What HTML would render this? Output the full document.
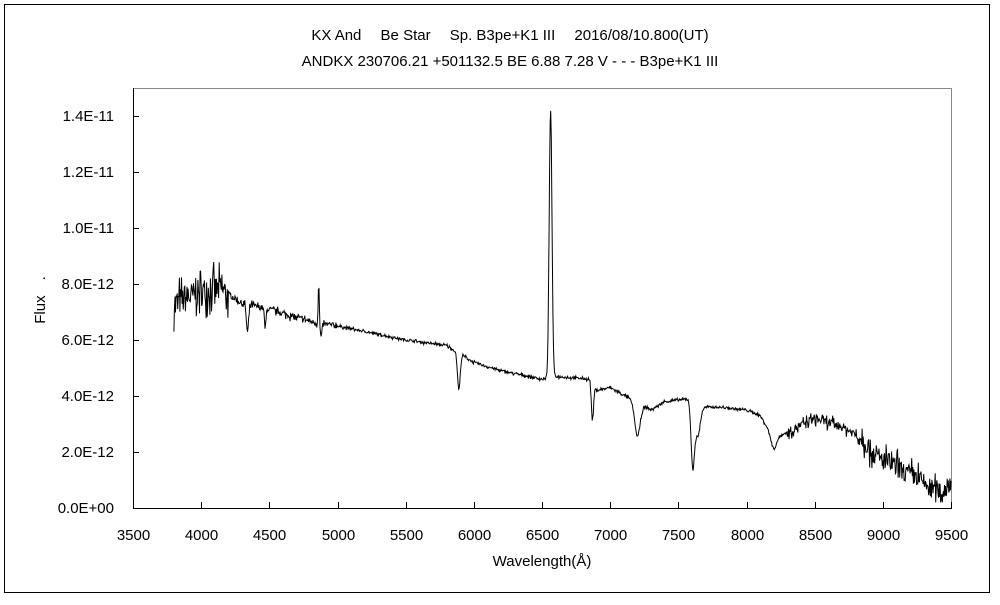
<!DOCTYPE html>
<html><head><meta charset="utf-8"><style>
body{margin:0;background:#fff}
svg text{font-family:"Liberation Sans","Noto Sans CJK JP",sans-serif;font-size:15px;fill:#000}
</style></head><body>
<svg id="s" width="1000" height="600" xmlns="http://www.w3.org/2000/svg">
<rect x="4.5" y="4.5" width="985" height="588" fill="none" stroke="#000"/>
<text x="510" y="40" text-anchor="middle">KX And　 Be Star　 Sp. B3pe+K1 III　 2016/08/10.800(UT)</text>
<text x="510" y="66" text-anchor="middle">ANDKX 230706.21 +501132.5 BE 6.88 7.28 V - - - B3pe+K1 III</text>
<line x1="133" y1="88.5" x2="952" y2="88.5" stroke="#888"/>
<line x1="951.5" y1="88" x2="951.5" y2="508" stroke="#888"/>
<line x1="133.5" y1="88" x2="133.5" y2="508" stroke="#000"/>
<line x1="133" y1="508.5" x2="952" y2="508.5" stroke="#000"/>
<g id="ticks" stroke="#000"></g>
<g id="labels"></g>
<text x="45" y="300" text-anchor="middle" transform="rotate(-90 45 300)">Flux　.</text>
<text x="542" y="566" text-anchor="middle">Wavelength(Å)</text>
<polyline id="sp" fill="none" stroke="#000" stroke-width="1"/>
</svg>
<script>
var X=function(l){return 133+(l-3500)*818/6000},Y=function(f){return 508-f*28};
var t=document.getElementById('ticks'),lb=document.getElementById('labels'),ns='http://www.w3.org/2000/svg';
function el(n,a,p,tx){var e=document.createElementNS(ns,n);for(var k in a)e.setAttribute(k,a[k]);if(tx)e.textContent=tx;p.appendChild(e);}
for(var i=0;i<=7;i++){var y=Y(i*2);el('line',{x1:133,x2:139,y1:y+.5,y2:y+.5},t);
el('text',{x:114,y:y+5,'text-anchor':'end'},lb,i==0?'0.0E+00':(i==5?'1.0E-11':i==6?'1.2E-11':i==7?'1.4E-11':(i*2)+'.0E-12'));}
for(var w=3500;w<=9500;w+=500){var x=Math.round(X(w))+.5;el('line',{x1:x,x2:x,y1:508,y2:502},t);
el('text',{x:x,y:540,'text-anchor':'middle'},lb,w);}
var c=[[3800,7.3],[3900,7.5],[4050,7.8],[4150,7.8],[4300,7.3],[4500,7.1],[4700,6.8],[4850,6.6],[5000,6.5],[5200,6.3],[5500,6.0],[5800,5.8],[6000,5.2],[6200,4.9],[6500,4.6],[6600,4.7],[6850,4.6],[6900,4.2],[7000,4.3],[7150,3.9],[7300,3.5],[7400,3.8],[7580,3.9],[7700,3.6],[7800,3.6],[8000,3.5],[8100,3.3],[8200,2.5],[8300,2.7],[8500,3.2],[8700,2.9],[8850,2.5],[8950,1.8],[9050,1.6],[9150,1.3],[9250,1.1],[9350,0.7],[9450,0.6],[9500,1.0]];
function cont(l){for(var i=1;i<c.length;i++)if(l<=c[i][0]){var a=c[i-1],b=c[i];return a[1]+(b[1]-a[1])*(l-a[0])/(b[0]-a[0]);}return 1;}
var feats=[[4340,-1.0,8],[4470,-0.7,6],[4862,1.4,4],[4880,-0.5,6],[5890,-1.3,10],[6563,9.6,10],[6870,-1.3,8],[7200,-1.2,20],[7605,-2.2,12],[7640,-1.2,20],[8200,-0.4,20]];
var seed=7;function r(){seed=(seed*16807)%2147483647;return seed/2147483647-.5;}
var pts=[];
for(var l=3800;l<=9500;l+=4){var f=cont(l);
feats.forEach(function(q){var d=(l-q[0])/q[2];f+=q[1]*Math.exp(-d*d/2);});
var n=l<4200?1.0:l<5000?0.2:l<8300?0.08:l<8800?0.3:0.7;f+=r()*n*(r()>0.2?2:1);
pts.push(X(l).toFixed(1)+','+Y(Math.max(0.2,f)).toFixed(1));}
document.getElementById('sp').setAttribute('points',pts.join(' '));
</script>
</body></html>
